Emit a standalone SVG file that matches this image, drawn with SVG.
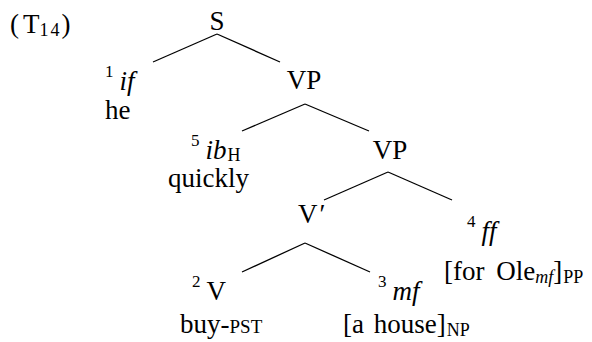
<svg xmlns="http://www.w3.org/2000/svg" width="592" height="342" viewBox="0 0 592 342">
<style>
.t{font-family:'Liberation Serif','Times New Roman',serif;font-size:27px;fill:#000}
.c{text-anchor:middle}
.i{font-style:italic}
.sup{font-size:17px}
.sub{font-size:18px}
.sc{font-size:19px}
line{stroke:#000;stroke-width:1.3}
</style>
<rect width="592" height="342" fill="#fff"/>
<g id="label"><text class="t" x="10" y="33">(<tspan dx="4">T</tspan><tspan class="sub" dy="3" letter-spacing="2">14</tspan><tspan dy="-3">)</tspan></text></g>
<g id="connectors">
<line x1="153" y1="62" x2="217" y2="34"/>
<line x1="217" y1="34" x2="280" y2="62"/>
<line x1="242" y1="131" x2="305" y2="104"/>
<line x1="305" y1="104" x2="369" y2="131"/>
<line x1="324" y1="200" x2="388" y2="172"/>
<line x1="388" y1="172" x2="452" y2="200"/>
<line x1="242" y1="272" x2="305" y2="243"/>
<line x1="305" y1="243" x2="370" y2="272"/>
</g>
<g id="S"><text class="t c" x="217" y="30">S</text></g>
<g id="n1"><text class="t" x="105" y="90"><tspan class="sup" dy="-13">1</tspan><tspan class="i" dx="6" dy="13">if</tspan></text><text class="t" x="105" y="119">he</text></g>
<g id="VP1"><text class="t c" x="304" y="89">VP</text></g>
<g id="n5"><text class="t" x="191" y="159"><tspan class="sup" dy="-13">5</tspan><tspan class="i" dx="6" dy="13">ib</tspan><tspan class="sub" dx="1" dy="2">H</tspan></text><text class="t" x="168" y="187">quickly</text></g>
<g id="VP2"><text class="t c" x="390" y="159">VP</text></g>
<g id="Vbar"><text class="t" x="298" y="223">V<tspan dx="2">′</tspan></text></g>
<g id="n4"><text class="t" x="467" y="240"><tspan class="sup" dy="-13">4</tspan><tspan class="i" dx="6" dy="13">ff</tspan></text><text class="t" x="444" y="280" word-spacing="5">[for Ole<tspan class="i sub" dy="3">mf</tspan><tspan dy="-3">]</tspan><tspan class="sub" dx="1" dy="3">PP</tspan></text></g>
<g id="n2"><text class="t" x="192" y="300"><tspan class="sup" dy="-13">2</tspan><tspan dx="6" dy="13">V</tspan></text><text class="t" x="180" y="333">buy-<tspan class="sc">PST</tspan></text></g>
<g id="n3"><text class="t" x="378" y="300"><tspan class="sup" dy="-13">3</tspan><tspan class="i" dx="6" dy="13">mf</tspan></text><text class="t" x="343" y="333" word-spacing="3">[a house]<tspan class="sub" dx="1" dy="3">NP</tspan></text></g>
</svg>
